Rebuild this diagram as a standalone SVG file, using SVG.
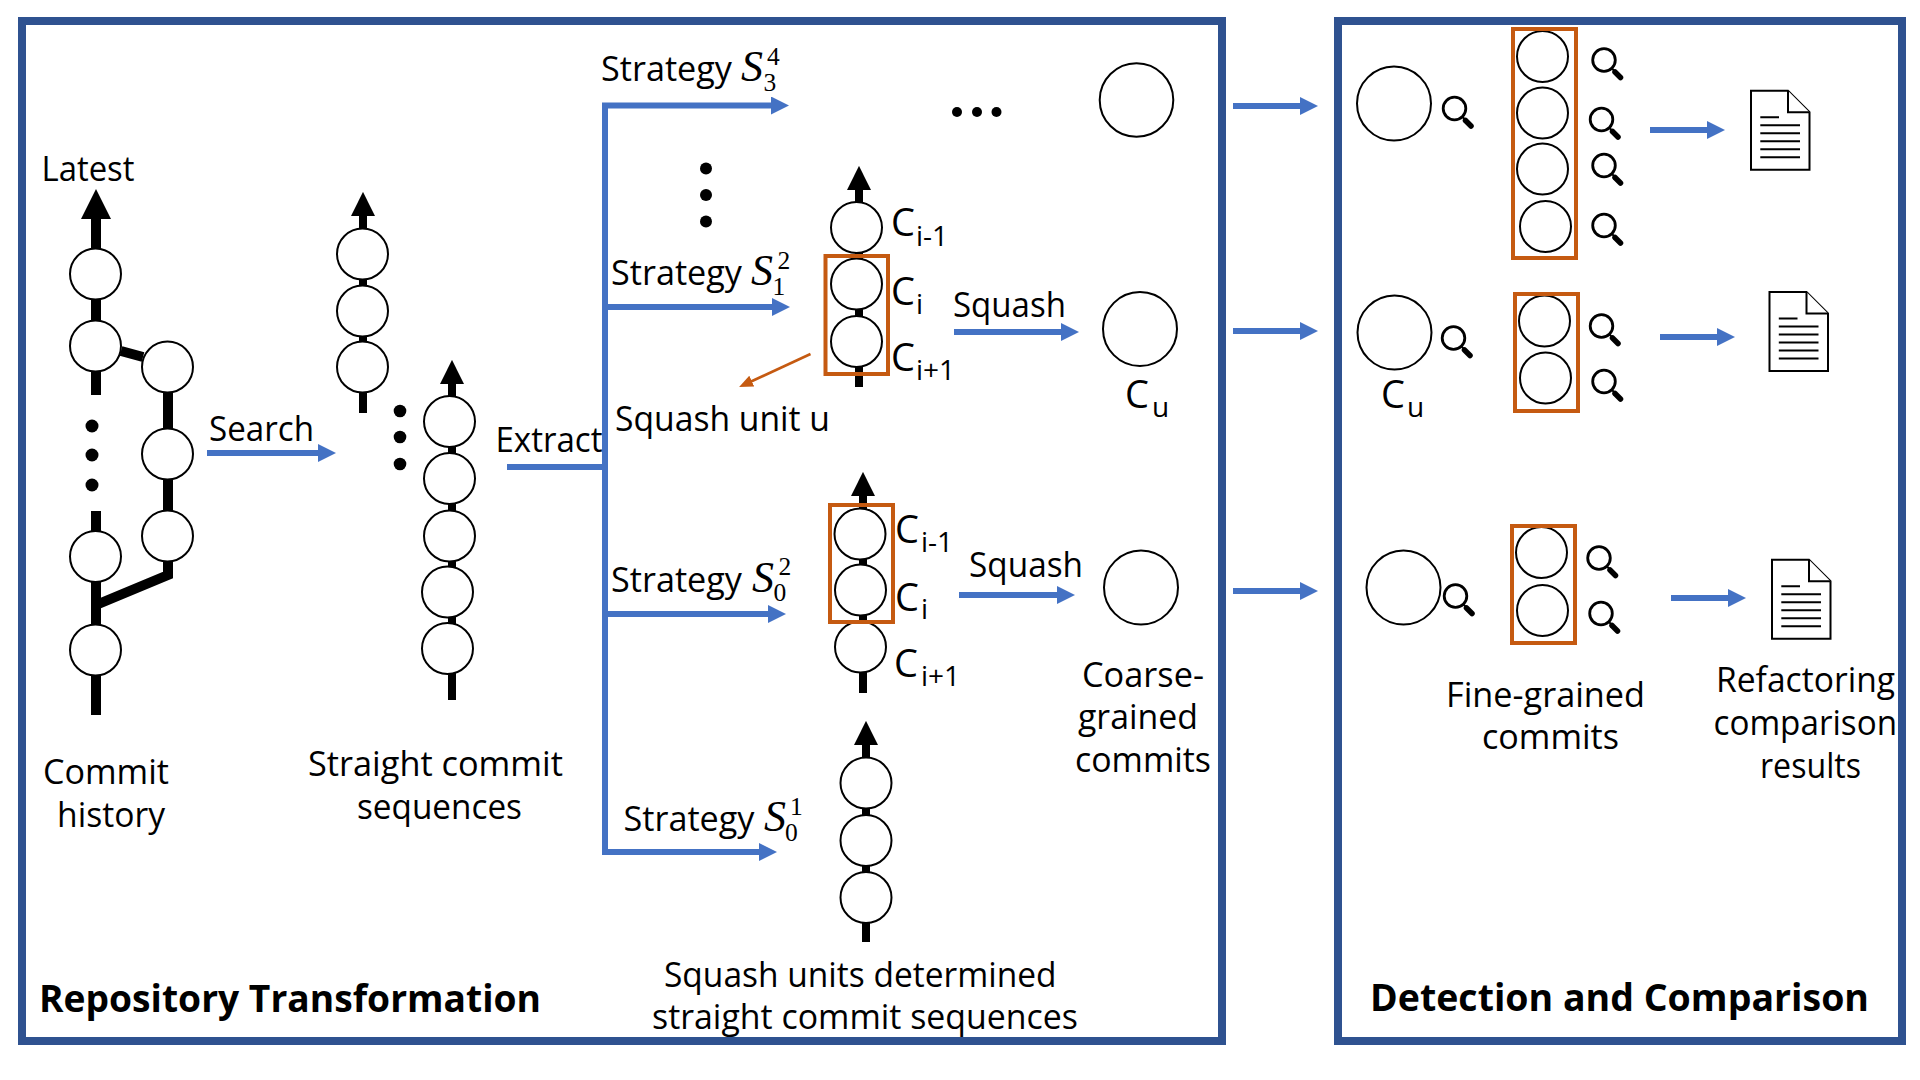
<svg xmlns="http://www.w3.org/2000/svg" width="1920" height="1080" viewBox="0 0 1920 1080">
<style>
text{font-family:"Open Sans","Noto Sans","Liberation Sans",sans-serif;font-size:34px;fill:#000}
.b{font-weight:700;font-size:38px}
text.m{font-family:"Liberation Serif",serif;font-style:italic;font-size:44px}
.n{font-family:"Liberation Serif",serif;font-style:normal;font-size:25.5px}
text.C{font-size:38px}
.s{font-size:28px}
.frame{fill:none;stroke:#2F5290;stroke-width:8}
.unit{fill:none;stroke:#C55A11;stroke-width:4}
.c{fill:#fff;stroke:#000;stroke-width:2}
.bl{fill:none;stroke:#4472C4;stroke-width:6}
.bar{fill:none;stroke:#000;stroke-width:10}
.bar2{fill:none;stroke:#000;stroke-width:8}
.doc{fill:#fff;stroke:#000;stroke-width:2}
.dl{stroke:#000;stroke-width:2}
.lens{fill:none;stroke:#000;stroke-width:2.8}
.hnd{stroke:#000;stroke-width:5.5;stroke-linecap:round}
.thn{stroke:#000;stroke-width:2}
</style>
<defs>
<marker id="ab" viewBox="0 0 18 18" refX="0" refY="9" markerWidth="18" markerHeight="18" markerUnits="userSpaceOnUse"><path d="M0,0L18,9L0,18z" fill="#4472C4"/></marker>
<marker id="ak" viewBox="0 0 30 30" refX="0" refY="15" markerWidth="30" markerHeight="30" markerUnits="userSpaceOnUse" orient="auto"><path d="M0,0L30,15L0,30z" fill="#000"/></marker>
<marker id="ak2" viewBox="0 0 24 24" refX="0" refY="12" markerWidth="24" markerHeight="24" markerUnits="userSpaceOnUse" orient="auto"><path d="M0,0L24,12L0,24z" fill="#000"/></marker>
<marker id="ao" viewBox="0 0 14 12" refX="2" refY="6" markerWidth="14" markerHeight="12" markerUnits="userSpaceOnUse" orient="auto"><path d="M0,0L14,6L0,12z" fill="#C55A11"/></marker>
<g id="mag"><circle class="lens" r="11.3"/><line class="thn" x1="8" y1="8.5" x2="12" y2="12.5"/><line class="hnd" x1="11" y1="12" x2="16.5" y2="17.5"/></g>
<g id="docu"><path class="doc" d="M0,0H37L58.5,21.5V79H0z"/><path class="doc" d="M37,0V21.5H58.5" fill="none"/><path class="dl" d="M9.3,26.5H28M9.3,34.5H49M9.3,42.5H49M9.3,50.5H49M9.3,58.5H49M9.3,66.5H49"/></g>
</defs>
<rect width="1920" height="1080" fill="#fff"/>
<g id="connectors">
<path class="bar" d="M96,219V395M96,511V715"/>
<path class="bar" d="M96,220V219" marker-end="url(#ak)"/>
<path class="bar" d="M121,351L143,357M168,367V561V575L96,605"/>
<path class="bar2" d="M363,216V413M363,216V215.9" marker-end="url(#ak2)"/>
<path class="bar2" d="M452,384V700M452,384V383.9" marker-end="url(#ak2)"/>
<path class="bar2" d="M859,190V387M859,190V189.9" marker-end="url(#ak2)"/>
<path class="bar2" d="M863,496V693M863,496V495.9" marker-end="url(#ak2)"/>
<path class="bar2" d="M866,745V942M866,745V744.9" marker-end="url(#ak2)"/>
<path class="bl" d="M207,453H318" marker-end="url(#ab)"/>
<path class="bl" d="M507,467H605"/>
<path class="bl" d="M605,852V105.5H771" marker-end="url(#ab)"/>
<path class="bl" d="M605,307H772" marker-end="url(#ab)"/>
<path class="bl" d="M605,614H768" marker-end="url(#ab)"/>
<path class="bl" d="M602,852H759" marker-end="url(#ab)"/>
<path class="bl" d="M954,332H1061" marker-end="url(#ab)"/>
<path class="bl" d="M959,595H1057" marker-end="url(#ab)"/>
<path class="bl" d="M1233,106H1300" marker-end="url(#ab)"/>
<path class="bl" d="M1233,331H1300" marker-end="url(#ab)"/>
<path class="bl" d="M1233,591H1300" marker-end="url(#ab)"/>
<path class="bl" d="M1650,130H1707" marker-end="url(#ab)"/>
<path class="bl" d="M1660,337H1717" marker-end="url(#ab)"/>
<path class="bl" d="M1671,598H1728" marker-end="url(#ab)"/>
<path d="M810.5,354L750,382" fill="none" stroke="#C55A11" stroke-width="2.6" marker-end="url(#ao)"/>
</g>
<g id="repository-transformation">
<rect class="frame" x="22" y="21" width="1200" height="1020"/>
<text class="b" x="39" y="1012" textLength="502" lengthAdjust="spacingAndGlyphs">Repository Transformation</text>
</g>
<g id="detection-comparison">
<rect class="frame" x="1338" y="21" width="564" height="1020"/>
<text class="b" x="1370" y="1011" textLength="499" lengthAdjust="spacingAndGlyphs">Detection and Comparison</text>
</g>
<g id="commit-history">
<circle class="c" cx="95.5" cy="274" r="25.5"/><circle class="c" cx="95.5" cy="346" r="25.5"/><circle class="c" cx="95.5" cy="556.5" r="25.5"/><circle class="c" cx="95.5" cy="650" r="25.5"/>
<circle class="c" cx="167.5" cy="367" r="25.5"/><circle class="c" cx="167.5" cy="454" r="25.5"/><circle class="c" cx="167.5" cy="536" r="25.5"/>
<circle cx="92" cy="426" r="6.5"/><circle cx="92" cy="455" r="6.5"/><circle cx="92" cy="485" r="6.5"/>
<text x="41.5" y="181" textLength="93" lengthAdjust="spacingAndGlyphs">Latest</text>
<text x="43" y="784" textLength="126" lengthAdjust="spacingAndGlyphs">Commit</text>
<text x="57" y="826.5" textLength="108" lengthAdjust="spacingAndGlyphs">history</text>
</g>
<g id="straight-sequences">
<circle class="c" cx="362.5" cy="254" r="25.5"/><circle class="c" cx="362.5" cy="311" r="25.5"/><circle class="c" cx="362.5" cy="367" r="25.5"/>
<circle class="c" cx="449.5" cy="421.5" r="25.5"/><circle class="c" cx="449.5" cy="478.5" r="25.5"/><circle class="c" cx="449.5" cy="536" r="25.5"/><circle class="c" cx="447.5" cy="592" r="25.5"/><circle class="c" cx="447.5" cy="648.5" r="25.5"/>
<circle cx="400" cy="411" r="6.3"/><circle cx="400" cy="437" r="6.3"/><circle cx="400" cy="464" r="6.3"/>
<text x="308" y="775.5" textLength="255" lengthAdjust="spacingAndGlyphs">Straight commit</text>
<text x="357" y="818.5" textLength="165" lengthAdjust="spacingAndGlyphs">sequences</text>
</g>
<g id="edge-labels">
<text x="209" y="441" textLength="105" lengthAdjust="spacingAndGlyphs">Search</text>
<text x="495.5" y="452" textLength="107" lengthAdjust="spacingAndGlyphs">Extract</text>
<text x="953" y="317" textLength="113" lengthAdjust="spacingAndGlyphs">Squash</text>
<text x="969" y="577" textLength="114" lengthAdjust="spacingAndGlyphs">Squash</text>
</g>
<g id="strategy-s34">
<text x="601" y="81" textLength="131" lengthAdjust="spacingAndGlyphs">Strategy</text>
<text class="m" x="741" y="81">S<tspan class="n" x="767" y="64.5">4</tspan><tspan class="n" x="763.5" y="90.5">3</tspan></text>
<circle cx="957" cy="112" r="5"/><circle cx="977" cy="112" r="5"/><circle cx="996.5" cy="112" r="5"/>
<circle class="c" cx="1136.5" cy="100" r="36.8"/>
</g>
<g id="strategy-s12">
<circle cx="706" cy="168.5" r="6"/><circle cx="706" cy="195" r="6"/><circle cx="706" cy="221.5" r="6"/>
<text x="611" y="285" textLength="131" lengthAdjust="spacingAndGlyphs">Strategy</text>
<text class="m" x="751" y="285">S<tspan class="n" x="777.5" y="268.5">2</tspan><tspan class="n" x="772.5" y="294.5">1</tspan></text>
<circle class="c" cx="856.5" cy="227.5" r="25.5"/><circle class="c" cx="856.5" cy="284" r="25.5"/><circle class="c" cx="856.5" cy="341.5" r="25.5"/>
<rect class="unit" x="825.5" y="256" width="62.5" height="118"/>
<text class="C" x="891" y="236">C<tspan class="s" x="916" y="245.5">i-1</tspan></text>
<text class="C" x="891" y="305">C<tspan class="s" x="916" y="314">i</tspan></text>
<text class="C" x="891" y="371">C<tspan class="s" x="916" y="380">i+1</tspan></text>
<text x="615" y="431" textLength="215" lengthAdjust="spacingAndGlyphs">Squash unit u</text>
<circle class="c" cx="1140" cy="329" r="37"/>
<text class="C" x="1125" y="408">C<tspan class="s" x="1152" y="417">u</tspan></text>
</g>
<g id="strategy-s02">
<text x="611" y="591.5" textLength="131" lengthAdjust="spacingAndGlyphs">Strategy</text>
<text class="m" x="752" y="591.5">S<tspan class="n" x="778.5" y="575">2</tspan><tspan class="n" x="773.5" y="601">0</tspan></text>
<circle class="c" cx="860" cy="534" r="25.5"/><circle class="c" cx="860.5" cy="590" r="25.5"/><circle class="c" cx="860.5" cy="647" r="25.5"/>
<rect class="unit" x="830" y="505" width="63" height="117"/>
<text class="C" x="895" y="543">C<tspan class="s" x="921" y="552">i-1</tspan></text>
<text class="C" x="895" y="610.5">C<tspan class="s" x="921" y="619">i</tspan></text>
<text class="C" x="894" y="677">C<tspan class="s" x="921" y="686">i+1</tspan></text>
<circle class="c" cx="1141" cy="587.5" r="37"/>
<text x="1082" y="686.5" textLength="122" lengthAdjust="spacingAndGlyphs">Coarse-</text>
<text x="1078" y="729" textLength="120" lengthAdjust="spacingAndGlyphs">grained</text>
<text x="1075" y="772" textLength="136" lengthAdjust="spacingAndGlyphs">commits</text>
</g>
<g id="strategy-s01">
<text x="623.5" y="831" textLength="131" lengthAdjust="spacingAndGlyphs">Strategy</text>
<text class="m" x="764" y="831">S<tspan class="n" x="790" y="814.5">1</tspan><tspan class="n" x="785" y="840.5">0</tspan></text>
<circle class="c" cx="866" cy="783" r="25.5"/><circle class="c" cx="866" cy="840.5" r="25.5"/><circle class="c" cx="866" cy="897.5" r="25.5"/>
<text x="664" y="986.5" textLength="392.5" lengthAdjust="spacingAndGlyphs">Squash units determined</text>
<text x="652" y="1029" textLength="426" lengthAdjust="spacingAndGlyphs">straight commit sequences</text>
</g>
<g id="detect-top">
<circle class="c" cx="1394" cy="103.5" r="37"/>
<use href="#mag" x="1454.5" y="108.5"/>
<circle class="c" cx="1542.5" cy="56.5" r="25.5"/><circle class="c" cx="1542.5" cy="113" r="25.5"/><circle class="c" cx="1542.5" cy="169" r="25.5"/><circle class="c" cx="1545.5" cy="226.5" r="25.5"/>
<rect class="unit" x="1513" y="29" width="63" height="229"/>
<use href="#mag" x="1604" y="60"/><use href="#mag" x="1601.5" y="119.5"/><use href="#mag" x="1604" y="165.5"/><use href="#mag" x="1604" y="225.5"/>
<use href="#docu" x="1751" y="90.7"/>
</g>
<g id="detect-middle">
<circle class="c" cx="1394.5" cy="332.5" r="37"/>
<use href="#mag" x="1453.5" y="338"/>
<text class="C" x="1381" y="408">C<tspan class="s" x="1407" y="417">u</tspan></text>
<circle class="c" cx="1544.5" cy="321" r="25.5"/><circle class="c" cx="1545.5" cy="378" r="25.5"/>
<rect class="unit" x="1515" y="294" width="63" height="117"/>
<use href="#mag" x="1601.5" y="326"/><use href="#mag" x="1604" y="381.5"/>
<use href="#docu" x="1769.5" y="292"/>
</g>
<g id="detect-bottom">
<circle class="c" cx="1403.5" cy="587.5" r="37"/>
<use href="#mag" x="1455.5" y="596"/>
<circle class="c" cx="1541.5" cy="552.5" r="25.5"/><circle class="c" cx="1542.5" cy="610.5" r="25.5"/>
<rect class="unit" x="1512" y="526" width="63" height="117"/>
<use href="#mag" x="1599" y="558"/><use href="#mag" x="1601" y="613.5"/>
<use href="#docu" x="1772" y="559.7"/>
<text x="1446" y="706.5" textLength="199" lengthAdjust="spacingAndGlyphs">Fine-grained</text>
<text x="1482" y="749" textLength="137" lengthAdjust="spacingAndGlyphs">commits</text>
<text x="1716" y="691.5" textLength="179" lengthAdjust="spacingAndGlyphs">Refactoring</text>
<text x="1713.5" y="735" textLength="183.5" lengthAdjust="spacingAndGlyphs">comparison</text>
<text x="1760" y="777.5" textLength="101" lengthAdjust="spacingAndGlyphs">results</text>
</g>
</svg>
